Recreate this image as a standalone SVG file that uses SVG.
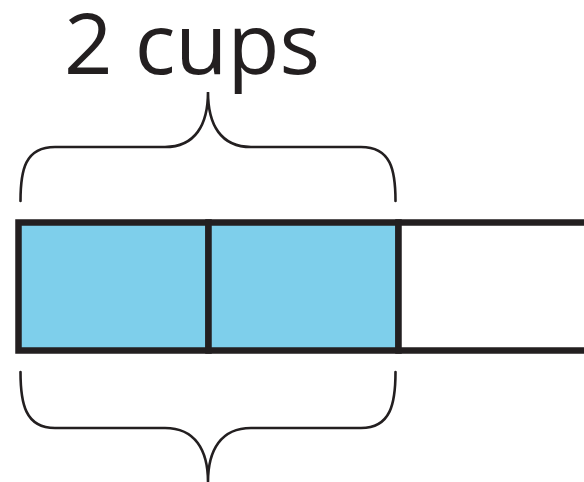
<svg xmlns="http://www.w3.org/2000/svg" width="584" height="482" viewBox="0 0 584 482">
<style>
.lbl{font-family:"Open Sans","Noto Sans",sans-serif;font-size:85px;fill:#231f20}
.brace{fill:none;stroke:#231f20;stroke-width:2.6;stroke-linecap:round}
.cell{stroke:#231f20;stroke-width:6.5}
</style>
<rect width="584" height="482" fill="#ffffff"/>
<g id="label"><text class="lbl" x="192" y="74" text-anchor="middle">2 cups</text></g>
<g id="bar">
<rect id="cell1" class="cell" x="18.5" y="222.5" width="190" height="128" fill="#7ecfeb"/>
<rect id="cell2" class="cell" x="208.5" y="222.5" width="190" height="128" fill="#7ecfeb"/>
<rect id="cell3" class="cell" x="398.5" y="222.5" width="190" height="128" fill="#ffffff"/>
</g>
<g id="connectors">
<path id="topBrace" class="brace" d="M20.5,201 C20.5,170 25,147 55,147 L165,147 C195,147 208,125 208,92 C208,125 221,147 251,147 L361,147 C391,147 395.5,170 395.5,201"/>
<path id="bottomBrace" class="brace" d="M20.5,372 C20.5,403 25,428 55,428 L165,428 C195,428 208,450 208,482 C208,450 221,428 251,428 L361,428 C391,428 395.5,403 395.5,372"/>
</g>
</svg>
